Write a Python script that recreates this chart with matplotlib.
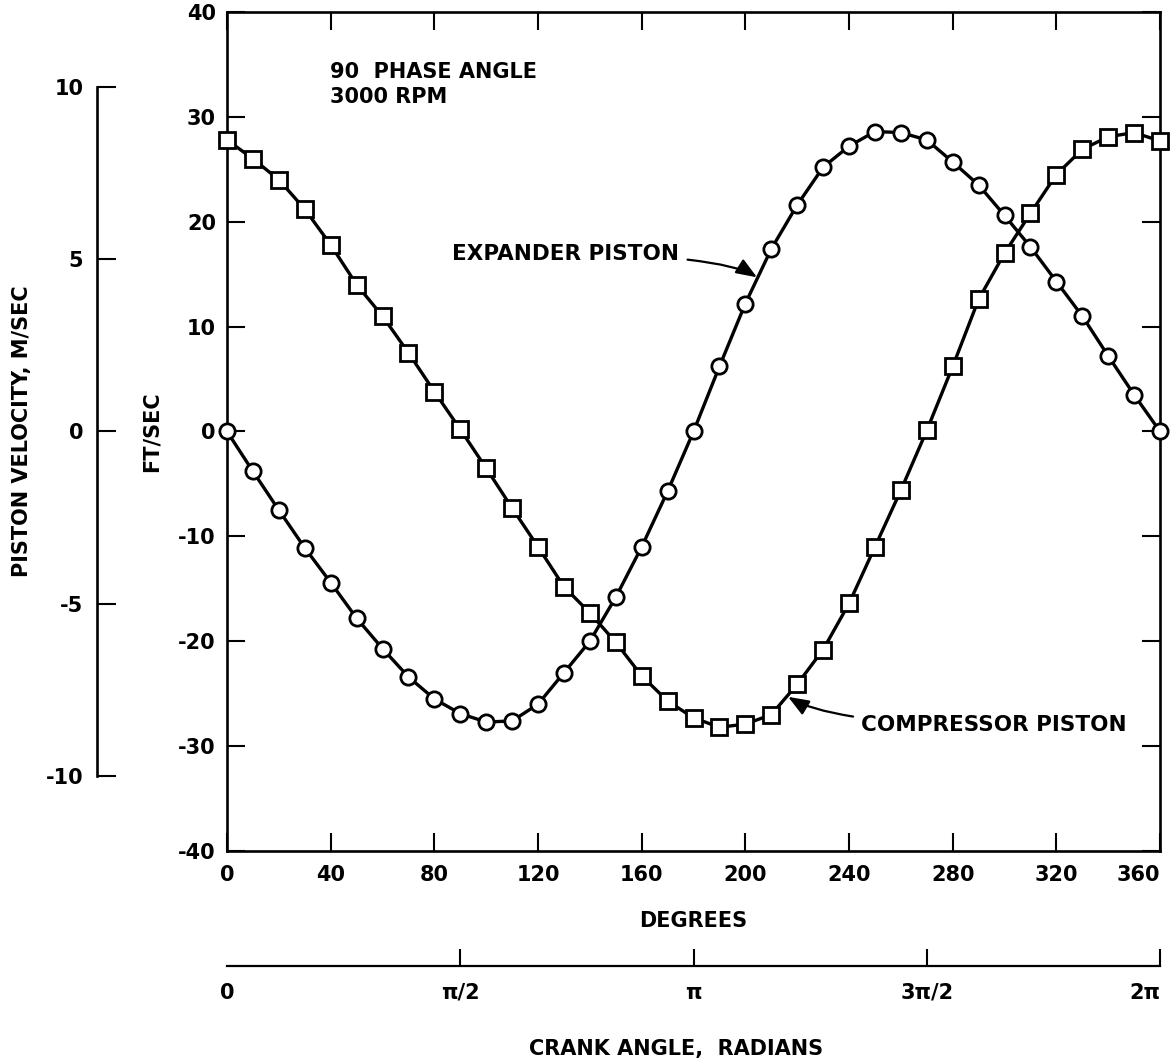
import numpy as np
import matplotlib
matplotlib.use('Agg')
import matplotlib.pyplot as plt

# datos (cada 10 grados)
crank_deg = [0, 10, 20, 30, 40, 50, 60, 70, 80, 90, 100, 110, 120, 130, 140, 150,
             160, 170, 180, 190, 200, 210, 220, 230, 240, 250, 260, 270, 280, 290,
             300, 310, 320, 330, 340, 350, 360]
expander_fps = [0.0, -3.8, -7.5, -11.1, -14.4, -17.8, -20.7, -23.4, -25.5, -26.9,
                -27.7, -27.6, -26.0, -23.0, -20.0, -15.8, -11.0, -5.7, 0.0, 6.2,
                12.2, 17.4, 21.6, 25.2, 27.2, 28.6, 28.5, 27.8, 25.7, 23.5, 20.6,
                17.6, 14.3, 11.0, 7.2, 3.5, 0.0]
compressor_fps = [27.8, 26.0, 24.0, 21.2, 17.8, 14.0, 11.0, 7.5, 3.8, 0.2, -3.5,
                  -7.3, -11.0, -14.8, -17.3, -20.1, -23.3, -25.7, -27.3, -28.2,
                  -27.9, -27.0, -24.1, -20.8, -16.4, -11.0, -5.6, 0.1, 6.2, 12.6,
                  17.0, 20.8, 24.5, 26.9, 28.1, 28.5, 27.7]

deg_ticks = [0, 40, 80, 120, 160, 200, 240, 280, 320, 360]
fps_ticks = [-40, -30, -20, -10, 0, 10, 20, 30, 40]
ms_ticks = [-10, -5, 0, 5, 10]
rad_ticks = [0, np.pi / 2, np.pi, 3 * np.pi / 2, 2 * np.pi]
rad_labels = ['0', 'π/2', 'π', '3π/2', '2π']

plt.rcParams['font.family'] = ['DejaVu Sans']
plt.rcParams['font.weight'] = 'bold'
plt.rcParams['axes.unicode_minus'] = False

FT2M = 0.3048

fig = plt.figure(figsize=(11.72, 10.59), dpi=100)
ax = fig.add_axes([0.1937, 0.1964, 0.7961, 0.7923])

# curvas
ax.plot(crank_deg, expander_fps, color='k', lw=2.4, marker='o', ms=11,
        mfc='white', mec='k', mew=2.0, clip_on=False, zorder=3)
ax.plot(crank_deg, compressor_fps, color='k', lw=2.4, marker='s', ms=11,
        mfc='white', mec='k', mew=2.0, clip_on=False, zorder=3)

ax.set_xlim(0, 360)
ax.set_ylim(-40, 40)
ax.set_xticks(deg_ticks)
ax.set_yticks(fps_ticks)
ax.tick_params(direction='in', length=13, width=1.5, labelsize=15,
               top=True, right=True, pad=8)
ax.tick_params(axis='x', pad=10)
ax.get_xticklabels()[-1].set_horizontalalignment('right')
for s in ax.spines.values():
    s.set_linewidth(1.9)
ax.set_xlabel('DEGREES', fontsize=15, fontweight='bold', labelpad=19)
ax.set_ylabel('FT/SEC', fontsize=15, fontweight='bold', labelpad=12)

# texto
ax.text(0.110, 0.940, '90  PHASE ANGLE\n3000 RPM', transform=ax.transAxes,
        ha='left', va='top', fontsize=15, fontweight='bold', linespacing=1.3)

arrow = dict(arrowstyle='-|>,head_length=0.9,head_width=0.35', color='k',
             lw=1.6, mutation_scale=14, shrinkA=4, shrinkB=0)
ax.annotate('EXPANDER PISTON', xy=(204.5, 14.7), xytext=(130.7, 16.9),
            ha='center', va='center', fontsize=15.5, fontweight='bold',
            arrowprops=dict(arrow, connectionstyle='angle3,angleA=0,angleB=-32'))
ax.annotate('COMPRESSOR PISTON', xy=(216.5, -25.3), xytext=(296, -28.0),
            ha='center', va='center', fontsize=15.5, fontweight='bold',
            arrowprops=dict(arrow, connectionstyle='angle3,angleA=0,angleB=-31'))

# eje secundario en m/s
secy = ax.secondary_yaxis(-0.139, functions=(lambda v: v * FT2M, lambda v: v / FT2M))
secy.set_yticks(ms_ticks)
secy.spines['left'].set_bounds(-10, 10)
secy.spines['left'].set_linewidth(1.9)
secy.tick_params(direction='in', length=14, width=1.5, labelsize=15, pad=10)
secy.set_ylabel('PISTON VELOCITY, M/SEC', fontsize=15, fontweight='bold', labelpad=10)

# eje secundario en radianes
secx = ax.secondary_xaxis(-0.137, functions=(np.deg2rad, np.rad2deg))
secx.set_xticks(rad_ticks)
secx.set_xticklabels(rad_labels)
secx.spines['bottom'].set_bounds(0, 2 * np.pi)
secx.spines['bottom'].set_linewidth(1.6)
secx.tick_params(direction='in', length=12, width=1.5, labelsize=15, pad=12)
secx.xaxis.get_major_ticks()[0].tick1line.set_visible(False)
secx.get_xticklabels()[-1].set_horizontalalignment('right')
secx.set_xlabel('CRANK ANGLE,  RADIANS', fontsize=15, fontweight='bold', labelpad=26)
secx.xaxis.label.set_x(0.481)

fig.savefig('out.png', dpi=100)
